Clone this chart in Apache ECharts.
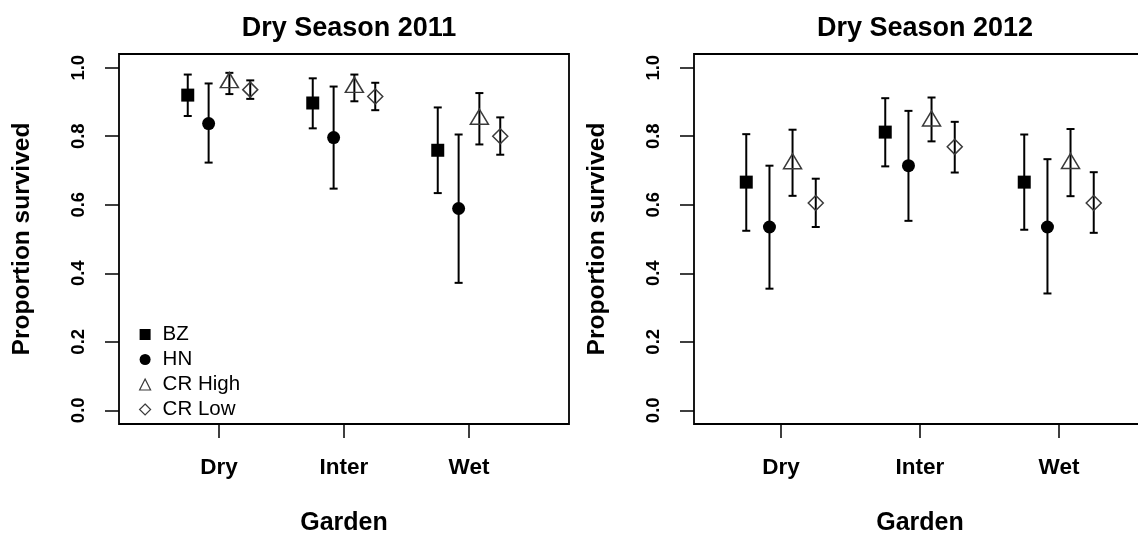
<!DOCTYPE html>
<html>
<head>
<meta charset="utf-8">
<script src="https://cdn.jsdelivr.net/npm/echarts@6/dist/echarts.min.js"></script>
<style>
  html, body { margin: 0; padding: 0; background: #fff; }
  #chart { width: 1138px; height: 534px; }
</style>
</head>
<body>
<div id="chart"></div>
<script>
// Garden categories, seed origins and y-axis ticks
const gardens = ['Dry', 'Inter', 'Wet'];
const origins = ['BZ', 'HN', 'CR High', 'CR Low'];
const yTicks = [0, 0.2, 0.4, 0.6, 0.8, 1.0];
const panelTitles = ['Dry Season 2011', 'Dry Season 2012'];

// Dry season 2011: proportion survived with lower / upper interval
const bz2011 = [0.920, 0.897, 0.759];
const bz2011Lo = [0.859, 0.823, 0.634];
const bz2011Hi = [0.980, 0.969, 0.884];
const hn2011 = [0.837, 0.796, 0.589];
const hn2011Lo = [0.723, 0.647, 0.372];
const hn2011Hi = [0.954, 0.945, 0.805];
const crh2011 = [0.958, 0.944, 0.851];
const crh2011Lo = [0.923, 0.902, 0.776];
const crh2011Hi = [0.985, 0.980, 0.926];
const crl2011 = [0.936, 0.916, 0.800];
const crl2011Lo = [0.909, 0.876, 0.746];
const crl2011Hi = [0.963, 0.956, 0.855];

// Dry season 2012
const bz2012 = [0.666, 0.812, 0.666];
const bz2012Lo = [0.524, 0.712, 0.527];
const bz2012Hi = [0.806, 0.911, 0.805];
const hn2012 = [0.535, 0.714, 0.535];
const hn2012Lo = [0.355, 0.553, 0.341];
const hn2012Hi = [0.714, 0.874, 0.733];
const crh2012 = [0.721, 0.846, 0.722];
const crh2012Lo = [0.626, 0.785, 0.625];
const crh2012Hi = [0.819, 0.913, 0.821];
const crl2012 = [0.605, 0.769, 0.605];
const crl2012Lo = [0.535, 0.694, 0.518];
const crl2012Hi = [0.676, 0.842, 0.695];

const panels = [
  [[bz2011, bz2011Lo, bz2011Hi], [hn2011, hn2011Lo, hn2011Hi], [crh2011, crh2011Lo, crh2011Hi], [crl2011, crl2011Lo, crl2011Hi]],
  [[bz2012, bz2012Lo, bz2012Hi], [hn2012, hn2012Lo, hn2012Hi], [crh2012, crh2012Lo, crh2012Hi], [crl2012, crl2012Lo, crl2012Hi]]
];

// Dodge of each origin around its garden position
const dodge = [-0.25, -0.083, 0.083, 0.25];

const FONT = 'Liberation Sans, Arial, Helvetica, sans-serif';
const OPEN = '#3a3a3a';
const markerStyles = [
  { symbol: 'rect', symbolSize: 13, symbolOffset: [0, 0], itemStyle: { color: '#000', opacity: 1 } },
  { symbol: 'circle', symbolSize: 13, symbolOffset: [0, 0], itemStyle: { color: '#000', opacity: 1 } },
  { symbol: 'triangle', symbolSize: [18, 15], symbolOffset: [0, -2], itemStyle: { color: 'rgba(0,0,0,0)', borderColor: OPEN, borderWidth: 1.5, opacity: 1 } },
  { symbol: 'diamond', symbolSize: 15, symbolOffset: [0, 0], itemStyle: { color: 'rgba(0,0,0,0)', borderColor: OPEN, borderWidth: 1.5, opacity: 1 } }
];

const grids = [
  { left: 119, top: 54, width: 450, height: 370 },
  { left: 694, top: 54, width: 452, height: 370 }
];
const xRanges = [[0.2, 3.8], [0.374, 3.626]];

function errorBar(params, api) {
  const x = api.value(0);
  const lo = api.coord([x, api.value(1)]);
  const hi = api.coord([x, api.value(2)]);
  const cap = 4;
  const style = { stroke: '#000', lineWidth: 2 };
  return {
    type: 'group',
    children: [
      { type: 'line', shape: { x1: hi[0], y1: hi[1], x2: lo[0], y2: lo[1] }, style },
      { type: 'line', shape: { x1: hi[0] - cap, y1: hi[1], x2: hi[0] + cap, y2: hi[1] }, style },
      { type: 'line', shape: { x1: lo[0] - cap, y1: lo[1], x2: lo[0] + cap, y2: lo[1] }, style }
    ]
  };
}

const series = [];
panels.forEach((groups, p) => {
  groups.forEach(([val, lo, hi], k) => {
    series.push({
      type: 'custom',
      xAxisIndex: p, yAxisIndex: p,
      renderItem: errorBar,
      encode: { x: 0, y: [1, 2] },
      silent: true,
      z: 2,
      data: gardens.map((g, i) => [i + 1 + dodge[k], lo[i], hi[i]])
    });
    series.push(Object.assign({
      type: 'scatter',
      name: origins[k],
      xAxisIndex: p, yAxisIndex: p,
      z: 3,
      data: gardens.map((g, i) => [i + 1 + dodge[k], val[i]])
    }, markerStyles[k]));
  });
});

const option = {
  animation: false,
  backgroundColor: '#fff',
  textStyle: { fontFamily: FONT, color: '#000' },
  title: panelTitles.map((t, p) => ({
    text: t,
    left: grids[p].left + grids[p].width / 2,
    top: 10,
    textAlign: 'center',
    textStyle: { fontFamily: FONT, fontWeight: 'bold', fontSize: 27, color: '#000' }
  })),
  legend: {
    orient: 'vertical',
    left: 139,
    top: 324,
    padding: 0,
    itemWidth: 11,
    itemHeight: 11,
    itemGap: 4,
    textStyle: { fontFamily: FONT, fontSize: 20.5, color: '#000', padding: [0, 0, 0, 7] },
    selectedMode: false,
    data: origins.map((o, k) => ({
      name: o,
      icon: markerStyles[k].symbol,
      itemStyle: k < 2
        ? { color: '#000', borderWidth: 0, opacity: 1 }
        : { color: 'rgba(0,0,0,0)', borderColor: OPEN, borderWidth: 1.2, opacity: 1 }
    }))
  },
  grid: grids.map(g => Object.assign({
    show: true, borderColor: '#000', borderWidth: 1.8,
    containLabel: false, outerBoundsMode: 'none'
  }, g)),
  xAxis: xRanges.map((r, p) => ({
    type: 'value',
    gridIndex: p,
    min: r[0], max: r[1],
    name: 'Garden',
    nameLocation: 'middle',
    nameGap: 87,
    nameTextStyle: { fontFamily: FONT, fontWeight: 'bold', fontSize: 25, color: '#000' },
    axisLine: { show: false, onZero: false },
    splitLine: { show: false },
    axisTick: { show: true, length: 14, inside: false, customValues: [1, 2, 3], lineStyle: { color: '#000', width: 1.5 } },
    axisLabel: {
      customValues: [1, 2, 3],
      formatter: v => gardens[Math.round(v) - 1],
      margin: 32,
      fontFamily: FONT, fontWeight: 'bold', fontSize: 22.5, color: '#000'
    }
  })),
  yAxis: [0, 1].map(p => ({
    type: 'value',
    gridIndex: p,
    min: -0.04, max: 1.04,
    name: 'Proportion survived',
    nameLocation: 'middle',
    nameGap: 84,
    nameRotate: 90,
    nameTextStyle: { fontFamily: FONT, fontWeight: 'bold', fontSize: 24.5, color: '#000' },
    axisLine: { show: false, onZero: false },
    splitLine: { show: false },
    axisTick: { show: true, length: 14, inside: false, customValues: yTicks, lineStyle: { color: '#000', width: 1.5 } },
    axisLabel: {
      customValues: yTicks,
      rotate: 90,
      formatter: v => v.toFixed(1),
      margin: 31,
      fontFamily: FONT, fontWeight: 'bold', fontSize: 18.5, color: '#000'
    }
  })),
  series
};

const chart = echarts.init(document.getElementById('chart'), null, { renderer: 'canvas' });
chart.setOption(option);
</script>
</body>
</html>
